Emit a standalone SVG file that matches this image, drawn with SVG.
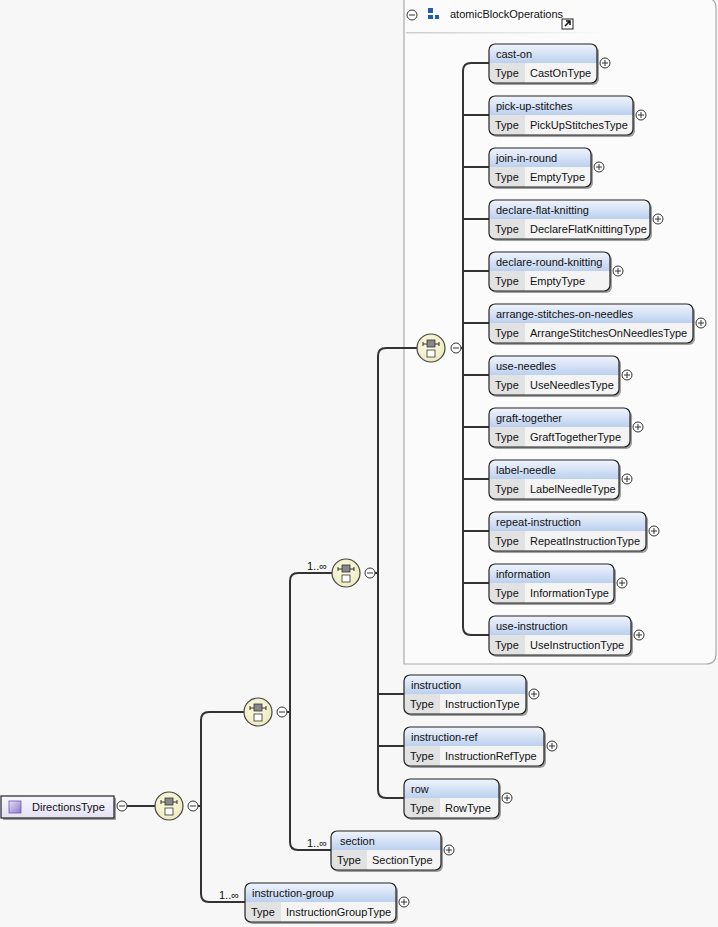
<svg xmlns="http://www.w3.org/2000/svg" width="718" height="927" viewBox="0 0 718 927">
<style>
text{font-family:"Liberation Sans",Arial,sans-serif;font-size:11px;fill:#111}
.sh{fill:#555;opacity:.55}
.bg{fill:#f4f4f4}
.ttl{fill:url(#tg)}
.tc{fill:#e2e2e2}
.ol{fill:none;stroke:#222;stroke-width:1.2}
.cn{fill:none;stroke:#333;stroke-width:2}
.ic{fill:#fff;stroke:#333;stroke-width:1}
.icl{stroke:#333;stroke-width:1}
.seq{fill:url(#sg);stroke:#444;stroke-width:1.2}
</style>
<defs>
<linearGradient id="tg" x1="0" y1="0" x2="0" y2="1"><stop offset="0" stop-color="#f1f5fc"/><stop offset="1" stop-color="#bcd0ef"/></linearGradient>
<radialGradient id="sg" cx=".45" cy=".4" r=".6"><stop offset="0" stop-color="#fdfde8"/><stop offset="1" stop-color="#ecebbd"/></radialGradient>
<linearGradient id="dg" x1="0" y1="0" x2="0" y2="1"><stop offset="0" stop-color="#f8f7fd"/><stop offset="1" stop-color="#e4e1f3"/></linearGradient>
<linearGradient id="pg" x1="0" y1="0" x2="1" y2="1"><stop offset="0" stop-color="#e8e0fb"/><stop offset="1" stop-color="#8a78c8"/></linearGradient>
<linearGradient id="hl" x1="0" y1="0" x2="1" y2="0"><stop offset="0" stop-color="#ccc"/><stop offset="1" stop-color="#ccc" stop-opacity="0"/></linearGradient>
<g id="plus"><circle class="ic" r="5"/><path class="icl" d="M-3,0H3M0,-3V3"/></g>
<g id="minus"><circle class="ic" r="5"/><path class="icl" d="M-3,0H3"/></g>
<g id="seqi"><circle class="seq" r="14"/><path d="M-8,-4H8" stroke="#333" stroke-width="1"/><path d="M-8,-6V-2M8,-6V-2" stroke="#333" stroke-width="1"/><rect x="-4" y="-8" width="8" height="7" fill="#888" stroke="#333" stroke-width="0.8"/><rect x="-4" y="2" width="8" height="7" fill="#fff" stroke="#333" stroke-width="0.8"/></g>
</defs>
<rect width="718" height="927" fill="#f7f7f7"/>

<g id="atomicBlockOperations">
<path d="M404,-2H706Q716,-2 716,8V654Q716,664 706,664H404Z" fill="#fbfbfb" stroke="#aaa" stroke-width="1.2"/>
<use href="#minus" x="412" y="15"/>
<rect x="428" y="8" width="5" height="5" fill="#1f5fb0"/>
<rect x="428" y="15" width="5" height="4" fill="#1f5fb0"/>
<rect x="435" y="15" width="4" height="4" fill="#1f5fb0"/>
<text x="450" y="18">atomicBlockOperations</text>
<rect x="562" y="19" width="11" height="10" fill="#fff" stroke="#222"/>
<path d="M565,26L570,21M566,21H570V25" stroke="#111" stroke-width="1.5" fill="none"/>
<rect x="406" y="32" width="200" height="1.5" fill="url(#hl)"/>
</g>

<g id="connectors">
<path class="cn" d="M127,806H155"/>
<path class="cn" d="M198,806H201M244,712H209Q201,712 201,720V894Q201,902 209,902H245"/>
<path class="cn" d="M287,712H290M332,573H298Q290,573 290,581V842Q290,850 298,850H331"/>
<path class="cn" d="M375,573H378M417,348H386Q378,348 378,356V790Q378,798 386,798H404M378,694H404M378,746H404"/>
<path class="cn" d="M461,348H463M489,63H471Q463,63 463,71V627Q463,635 471,635H489M463,115H489M463,167H489M463,219H489M463,271H489M463,323H489M463,375H489M463,427H489M463,479H489M463,531H489M463,583H489"/>
<text x="307" y="570">1..∞</text>
<text x="307" y="847">1..∞</text>
<text x="219" y="899">1..∞</text>
</g>

<g id="DirectionsType">
<rect x="3" y="798" width="113" height="22" fill="#555" opacity=".55"/>
<rect x="1" y="796" width="113" height="22" fill="url(#dg)" stroke="#222" stroke-width="1.2"/>
<rect x="9" y="801" width="12" height="12" fill="url(#pg)" stroke="#6a5aa8" stroke-width=".8"/>
<text x="32" y="811">DirectionsType</text>
<use href="#minus" x="122" y="806"/>
</g>

<g id="seq1"><use href="#seqi" x="169" y="806"/><use href="#minus" x="193" y="806"/></g>
<g id="seq2"><use href="#seqi" x="258" y="712"/><use href="#minus" x="282" y="712"/></g>
<g id="seq3"><use href="#seqi" x="346" y="573"/><use href="#minus" x="370" y="573"/></g>
<g id="seq4"><use href="#seqi" x="431" y="348"/><use href="#minus" x="456" y="348"/></g>

<g id="cast-on" transform="translate(489,44)">
<rect class="sh" x="2" y="2" width="108" height="39" rx="6"/><rect class="bg" width="108" height="39" rx="6"/>
<path class="ttl" d="M0,19V6Q0,0 6,0H102Q108,0 108,6V19Z"/><path class="tc" d="M0,19H36V39H6Q0,39 0,33Z"/>
<rect class="ol" width="108" height="39" rx="6"/>
<text x="7" y="14">cast-on</text><text x="6" y="33">Type</text><text x="41" y="33">CastOnType</text>
<use href="#plus" x="116" y="19"/></g>

<g id="pick-up-stitches" transform="translate(489,96)">
<rect class="sh" x="2" y="2" width="144" height="39" rx="6"/><rect class="bg" width="144" height="39" rx="6"/>
<path class="ttl" d="M0,19V6Q0,0 6,0H138Q144,0 144,6V19Z"/><path class="tc" d="M0,19H36V39H6Q0,39 0,33Z"/>
<rect class="ol" width="144" height="39" rx="6"/>
<text x="7" y="14">pick-up-stitches</text><text x="6" y="33">Type</text><text x="41" y="33">PickUpStitchesType</text>
<use href="#plus" x="152" y="19"/></g>

<g id="join-in-round" transform="translate(489,148)">
<rect class="sh" x="2" y="2" width="102" height="39" rx="6"/><rect class="bg" width="102" height="39" rx="6"/>
<path class="ttl" d="M0,19V6Q0,0 6,0H96Q102,0 102,6V19Z"/><path class="tc" d="M0,19H36V39H6Q0,39 0,33Z"/>
<rect class="ol" width="102" height="39" rx="6"/>
<text x="7" y="14">join-in-round</text><text x="6" y="33">Type</text><text x="41" y="33">EmptyType</text>
<use href="#plus" x="110" y="19"/></g>

<g id="declare-flat-knitting" transform="translate(489,200)">
<rect class="sh" x="2" y="2" width="161" height="39" rx="6"/><rect class="bg" width="161" height="39" rx="6"/>
<path class="ttl" d="M0,19V6Q0,0 6,0H155Q161,0 161,6V19Z"/><path class="tc" d="M0,19H36V39H6Q0,39 0,33Z"/>
<rect class="ol" width="161" height="39" rx="6"/>
<text x="7" y="14">declare-flat-knitting</text><text x="6" y="33">Type</text><text x="41" y="33">DeclareFlatKnittingType</text>
<use href="#plus" x="169" y="19"/></g>

<g id="declare-round-knitting" transform="translate(489,252)">
<rect class="sh" x="2" y="2" width="121" height="39" rx="6"/><rect class="bg" width="121" height="39" rx="6"/>
<path class="ttl" d="M0,19V6Q0,0 6,0H115Q121,0 121,6V19Z"/><path class="tc" d="M0,19H36V39H6Q0,39 0,33Z"/>
<rect class="ol" width="121" height="39" rx="6"/>
<text x="7" y="14">declare-round-knitting</text><text x="6" y="33">Type</text><text x="41" y="33">EmptyType</text>
<use href="#plus" x="129" y="19"/></g>

<g id="arrange-stitches-on-needles" transform="translate(489,304)">
<rect class="sh" x="2" y="2" width="204" height="39" rx="6"/><rect class="bg" width="204" height="39" rx="6"/>
<path class="ttl" d="M0,19V6Q0,0 6,0H198Q204,0 204,6V19Z"/><path class="tc" d="M0,19H36V39H6Q0,39 0,33Z"/>
<rect class="ol" width="204" height="39" rx="6"/>
<text x="7" y="14">arrange-stitches-on-needles</text><text x="6" y="33">Type</text><text x="41" y="33">ArrangeStitchesOnNeedlesType</text>
<use href="#plus" x="212" y="19"/></g>

<g id="use-needles" transform="translate(489,356)">
<rect class="sh" x="2" y="2" width="130" height="39" rx="6"/><rect class="bg" width="130" height="39" rx="6"/>
<path class="ttl" d="M0,19V6Q0,0 6,0H124Q130,0 130,6V19Z"/><path class="tc" d="M0,19H36V39H6Q0,39 0,33Z"/>
<rect class="ol" width="130" height="39" rx="6"/>
<text x="7" y="14">use-needles</text><text x="6" y="33">Type</text><text x="41" y="33">UseNeedlesType</text>
<use href="#plus" x="138" y="19"/></g>

<g id="graft-together" transform="translate(489,408)">
<rect class="sh" x="2" y="2" width="141" height="39" rx="6"/><rect class="bg" width="141" height="39" rx="6"/>
<path class="ttl" d="M0,19V6Q0,0 6,0H135Q141,0 141,6V19Z"/><path class="tc" d="M0,19H36V39H6Q0,39 0,33Z"/>
<rect class="ol" width="141" height="39" rx="6"/>
<text x="7" y="14">graft-together</text><text x="6" y="33">Type</text><text x="41" y="33">GraftTogetherType</text>
<use href="#plus" x="149" y="19"/></g>

<g id="label-needle" transform="translate(489,460)">
<rect class="sh" x="2" y="2" width="130" height="39" rx="6"/><rect class="bg" width="130" height="39" rx="6"/>
<path class="ttl" d="M0,19V6Q0,0 6,0H124Q130,0 130,6V19Z"/><path class="tc" d="M0,19H36V39H6Q0,39 0,33Z"/>
<rect class="ol" width="130" height="39" rx="6"/>
<text x="7" y="14">label-needle</text><text x="6" y="33">Type</text><text x="41" y="33">LabelNeedleType</text>
<use href="#plus" x="138" y="19"/></g>

<g id="repeat-instruction" transform="translate(489,512)">
<rect class="sh" x="2" y="2" width="157" height="39" rx="6"/><rect class="bg" width="157" height="39" rx="6"/>
<path class="ttl" d="M0,19V6Q0,0 6,0H151Q157,0 157,6V19Z"/><path class="tc" d="M0,19H36V39H6Q0,39 0,33Z"/>
<rect class="ol" width="157" height="39" rx="6"/>
<text x="7" y="14">repeat-instruction</text><text x="6" y="33">Type</text><text x="41" y="33">RepeatInstructionType</text>
<use href="#plus" x="165" y="19"/></g>

<g id="information" transform="translate(489,564)">
<rect class="sh" x="2" y="2" width="125" height="39" rx="6"/><rect class="bg" width="125" height="39" rx="6"/>
<path class="ttl" d="M0,19V6Q0,0 6,0H119Q125,0 125,6V19Z"/><path class="tc" d="M0,19H36V39H6Q0,39 0,33Z"/>
<rect class="ol" width="125" height="39" rx="6"/>
<text x="7" y="14">information</text><text x="6" y="33">Type</text><text x="41" y="33">InformationType</text>
<use href="#plus" x="133" y="19"/></g>

<g id="use-instruction" transform="translate(489,616)">
<rect class="sh" x="2" y="2" width="142" height="39" rx="6"/><rect class="bg" width="142" height="39" rx="6"/>
<path class="ttl" d="M0,19V6Q0,0 6,0H136Q142,0 142,6V19Z"/><path class="tc" d="M0,19H36V39H6Q0,39 0,33Z"/>
<rect class="ol" width="142" height="39" rx="6"/>
<text x="7" y="14">use-instruction</text><text x="6" y="33">Type</text><text x="41" y="33">UseInstructionType</text>
<use href="#plus" x="150" y="19"/></g>

<g id="instruction" transform="translate(404,675)">
<rect class="sh" x="2" y="2" width="122" height="39" rx="6"/><rect class="bg" width="122" height="39" rx="6"/>
<path class="ttl" d="M0,19V6Q0,0 6,0H116Q122,0 122,6V19Z"/><path class="tc" d="M0,19H36V39H6Q0,39 0,33Z"/>
<rect class="ol" width="122" height="39" rx="6"/>
<text x="7" y="14">instruction</text><text x="6" y="33">Type</text><text x="41" y="33">InstructionType</text>
<use href="#plus" x="130" y="19"/></g>

<g id="instruction-ref" transform="translate(404,727)">
<rect class="sh" x="2" y="2" width="140" height="39" rx="6"/><rect class="bg" width="140" height="39" rx="6"/>
<path class="ttl" d="M0,19V6Q0,0 6,0H134Q140,0 140,6V19Z"/><path class="tc" d="M0,19H36V39H6Q0,39 0,33Z"/>
<rect class="ol" width="140" height="39" rx="6"/>
<text x="7" y="14">instruction-ref</text><text x="6" y="33">Type</text><text x="41" y="33">InstructionRefType</text>
<use href="#plus" x="148" y="19"/></g>

<g id="row" transform="translate(404,779)">
<rect class="sh" x="2" y="2" width="95" height="39" rx="6"/><rect class="bg" width="95" height="39" rx="6"/>
<path class="ttl" d="M0,19V6Q0,0 6,0H89Q95,0 95,6V19Z"/><path class="tc" d="M0,19H36V39H6Q0,39 0,33Z"/>
<rect class="ol" width="95" height="39" rx="6"/>
<text x="7" y="14">row</text><text x="6" y="33">Type</text><text x="41" y="33">RowType</text>
<use href="#plus" x="103" y="19"/></g>

<g id="section" transform="translate(331,831)">
<rect class="sh" x="2" y="2" width="110" height="39" rx="6"/><rect class="bg" width="110" height="39" rx="6"/>
<path class="ttl" d="M0,19V6Q0,0 6,0H104Q110,0 110,6V19Z"/><path class="tc" d="M0,19H36V39H6Q0,39 0,33Z"/>
<rect class="ol" width="110" height="39" rx="6"/>
<text x="9" y="14">section</text><text x="6" y="33">Type</text><text x="41" y="33">SectionType</text>
<use href="#plus" x="118" y="19"/></g>

<g id="instruction-group" transform="translate(245,883)">
<rect class="sh" x="2" y="2" width="151" height="39" rx="6"/><rect class="bg" width="151" height="39" rx="6"/>
<path class="ttl" d="M0,19V6Q0,0 6,0H145Q151,0 151,6V19Z"/><path class="tc" d="M0,19H36V39H6Q0,39 0,33Z"/>
<rect class="ol" width="151" height="39" rx="6"/>
<text x="7" y="14">instruction-group</text><text x="6" y="33">Type</text><text x="41" y="33">InstructionGroupType</text>
<use href="#plus" x="159" y="19"/></g>
</svg>
